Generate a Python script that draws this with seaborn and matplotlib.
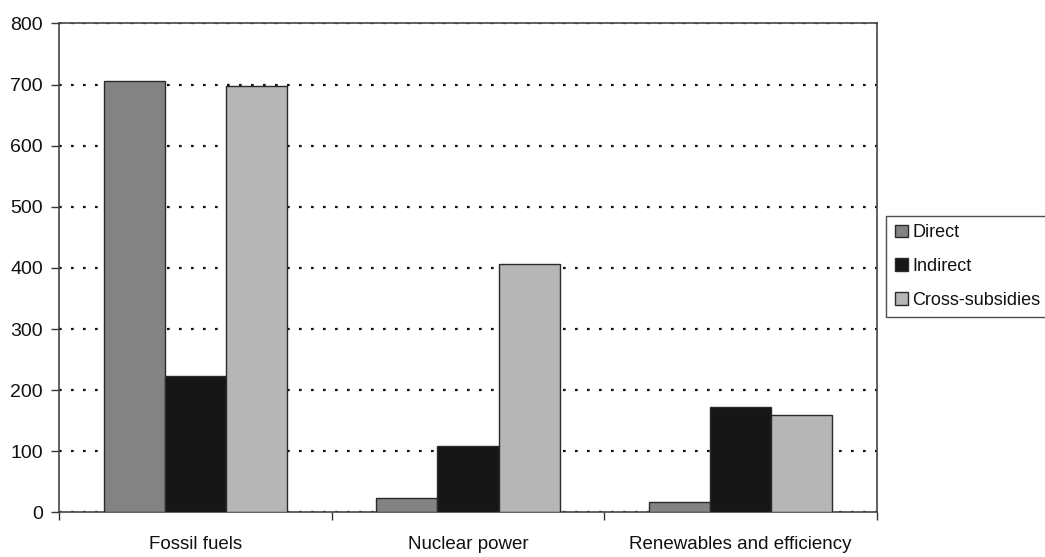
import matplotlib
matplotlib.use("Agg")
import matplotlib.pyplot as plt
import seaborn as sns
import pandas as pd

# Subsidy totals per energy source, split by subsidy type
categories = ["Fossil fuels", "Nuclear power", "Renewables and efficiency"]
series_names = ["Direct", "Indirect", "Cross-subsidies"]
direct = [705, 24, 17]
indirect = [223, 108, 173]
cross_subsidies = [697, 406, 160]
y_ticks = [0, 100, 200, 300, 400, 500, 600, 700, 800]

df = pd.DataFrame({
    "category": categories * 3,
    "type": [series_names[0]] * 3 + [series_names[1]] * 3 + [series_names[2]] * 3,
    "value": direct + indirect + cross_subsidies,
})

sns.set_theme(style="white")
plt.rcParams["font.family"] = ["Liberation Sans", "DejaVu Sans"]
FS = 14

fig = plt.figure(figsize=(10.45, 5.57), dpi=100)
ax = fig.add_axes([0.0567, 0.0799, 0.839 - 0.0567, 0.958 - 0.0799])

palette = {"Direct": "#838383", "Indirect": "#161616", "Cross-subsidies": "#b6b6b6"}
sns.barplot(data=df, x="category", y="value", hue="type", order=categories,
            hue_order=series_names, palette=palette, width=0.672,
            edgecolor="#2a2a2a", linewidth=1.0, saturation=1, ax=ax, zorder=3)

ax.set_ylim(0, 800)
ax.set_xlim(-0.5, 2.5)
ax.set_yticks(y_ticks)
ax.set_yticklabels([str(v) for v in y_ticks], fontsize=FS, color="#111111")
ax.set_xlabel("")
ax.set_ylabel("")

# Dotted horizontal gridlines behind the bars
ax.yaxis.grid(True, linestyle=(0, (1.2, 4.2)), color="#111111", linewidth=1.6, zorder=0)
ax.xaxis.grid(False)
ax.set_axisbelow(True)

# Category labels centred under each group, tick marks on the group boundaries
ax.set_xticks([0, 1, 2])
ax.set_xticklabels(categories, fontsize=13.5, color="#111111")
ax.set_xticks([-0.5, 0.5, 1.5, 2.5], minor=True)
ax.tick_params(axis="x", which="major", length=0, pad=17)
ax.tick_params(axis="x", which="minor", length=5.8, width=1.0, color="#333333",
               direction="out", bottom=True)
ax.tick_params(axis="y", which="major", length=5.8, width=1.0, color="#333333",
               direction="out", left=True, pad=6)

for side in ["left", "bottom", "top", "right"]:
    ax.spines[side].set_visible(True)
    ax.spines[side].set_color("#444444")
    ax.spines[side].set_linewidth(1.2)

handles, labels = ax.get_legend_handles_labels()
ax.get_legend().remove()
leg = fig.legend(handles, labels, loc="upper left",
                 bbox_to_anchor=(886 / 1045, 1 - 215.7 / 557),
                 bbox_transform=fig.transFigure,
                 fontsize=13, frameon=True, fancybox=False,
                 handlelength=0.72, handleheight=0.72, handletextpad=0.25,
                 labelspacing=0.92, borderpad=0.48, borderaxespad=0)
leg.get_frame().set_edgecolor("#222222")
leg.get_frame().set_linewidth(1.0)
for t in leg.get_texts():
    t.set_color("#111111")

fig.savefig("out.png", dpi=100)
